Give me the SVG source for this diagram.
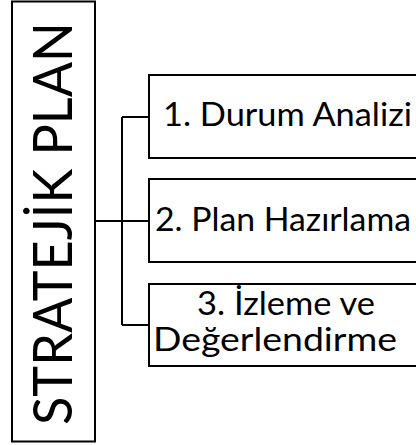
<svg xmlns="http://www.w3.org/2000/svg" width="416" height="445" viewBox="0 0 416 445">
<style>
.box{fill:#fff;stroke:#000;stroke-width:2}
.ln{fill:none;stroke:#000;stroke-width:2}
.t{font-family:Lato,"Open Sans",sans-serif;font-size:33px;fill:#000}
.big{font-family:Lato,"Open Sans",sans-serif;font-size:55px;fill:#000}
</style>
<rect width="416" height="445" fill="#fff"/>
<g id="connectors">
<path class="ln" d="M95 221H149M122 117V325M122 117H149M122 325H149"/>
</g>
<g id="root">
<rect class="box" x="12" y="1.5" width="83" height="440"/>
<text class="big" transform="translate(72,425) rotate(-90)" textLength="403" lengthAdjust="spacingAndGlyphs">STRATEJİK PLAN</text>
</g>
<g id="n1">
<rect class="box" x="149" y="75" width="280" height="83"/>
<text class="t" x="163" y="126" textLength="249" lengthAdjust="spacingAndGlyphs">1. Durum Analizi</text>
</g>
<g id="n2">
<rect class="box" x="149" y="179" width="280" height="83"/>
<text class="t" x="155" y="231" textLength="256" lengthAdjust="spacingAndGlyphs">2. Plan Hazırlama</text>
</g>
<g id="n3">
<rect class="box" x="149" y="284" width="280" height="82"/>
<text class="t" x="197" y="315" textLength="178" lengthAdjust="spacingAndGlyphs">3. İzleme ve</text>
<text class="t" x="153" y="351" textLength="244" lengthAdjust="spacingAndGlyphs">Değerlendirme</text>
</g>
</svg>
